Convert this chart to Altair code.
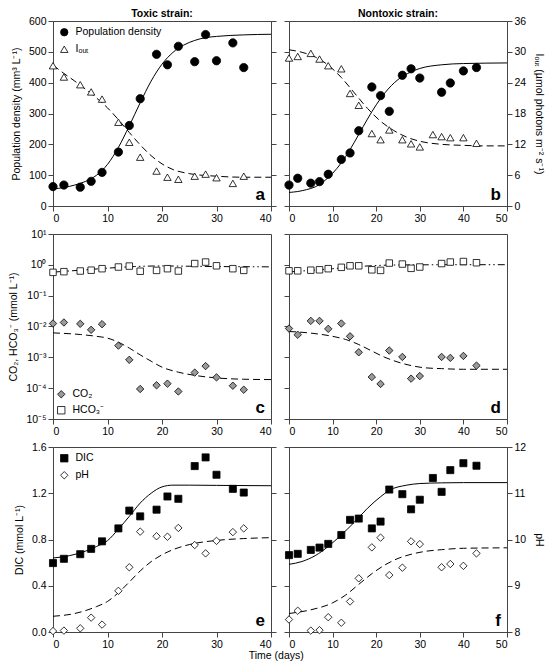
import altair as alt
import pandas as pd

FONT = "Liberation Sans"
W, H = 218, 185
FRAME = "#444444"
FS = 10.5

# ---------------- data: panels a / b ----------------
tox_day = [0, 2, 5, 7, 9, 12, 14, 16, 19, 21, 23, 26, 28, 30, 33, 35]
tox_density = [63, 68, 61, 80, 109, 175, 261, 348, 492, 458, 518, 468, 556, 471, 529, 449]
tox_iout = [27.3, 25.1, 23.6, 22.2, 20.8, 16.3, 12.4, 9.5, 6.8, 5.6, 5.2, 5.8, 6.2, 5.5, 4.4, 5.8]

non_day = [0, 2, 5, 7, 9, 12, 14, 16, 19, 21, 23, 26, 28, 30, 35, 37, 40, 43]
non_density = [68, 90, 74, 79, 103, 151, 172, 244, 386, 358, 307, 424, 445, 415, 369, 399, 438, 449]
non_day_all = [0, 2, 5, 7, 9, 12, 14, 16, 19, 21, 23, 26, 28, 30, 33, 35, 37, 40, 43]
non_iout = [28.8, 29.1, 29.7, 28.6, 27.3, 26.7, 21.9, 19.6, 14.1, 12.9, 14.8, 12.9, 12.1, 11.5,
            13.9, 13.5, 13.3, 13.3, 12.2]

# fitted curves
fit_a_day = [0, 2, 4, 6, 8, 10, 12, 14, 16, 18, 20, 22, 24, 26, 28, 30, 35, 40]
fit_a_pop = [55, 60, 68, 80, 100, 135, 190, 260, 335, 405, 460, 498, 522, 537, 546, 550, 555, 557]
fit_a_iday = [0, 2, 4, 6, 8, 10, 12, 14, 16, 18, 20, 22, 25, 30, 35, 40]
fit_a_iout = [27.4, 25.8, 24.3, 22.7, 21.0, 19.1, 16.8, 14.3, 11.9, 9.8, 8.2, 7.1, 6.3, 5.8, 5.6, 5.6]

fit_b_day = [0, 2, 4, 6, 8, 10, 12, 14, 16, 18, 20, 22, 25, 28, 30, 35, 40, 50]
fit_b_pop = [44, 47, 53, 62, 80, 106, 140, 183, 232, 282, 328, 367, 410, 435, 446, 458, 462, 464]
fit_b_iday = [0, 3, 6, 9, 12, 15, 18, 21, 24, 27, 30, 35, 40, 45, 50]
fit_b_iout = [30.4, 29.9, 29.0, 27.4, 25.0, 22.0, 19.0, 16.5, 14.7, 13.4, 12.6, 12.0, 11.8, 11.7, 11.7]

# ---------------- data: panels c / d ----------------
tox_hco3 = [0.57, 0.60, 0.63, 0.67, 0.75, 0.85, 0.91, 0.62, 0.66, 0.75, 0.63, 1.10, 1.23, 0.93, 0.75, 0.66]
tox_co2 = [0.0125, 0.0135, 0.0122, 0.0078, 0.0119, 0.0024, 0.00083, 9.4e-5, 1.24e-4, 1.4e-4,
           7.8e-5, 3.2e-4, 5.2e-4, 2.24e-4, 1.2e-4, 8.9e-5]
non_hco3 = [0.64, 0.64, 0.67, 0.69, 0.75, 0.83, 0.93, 0.93, 0.69, 0.66, 1.14, 1.06, 0.77, 0.85,
            1.10, 1.23, 1.28, 1.17]
non_co2 = [0.0086, 0.0054, 0.0152, 0.0152, 0.0084, 0.0125, 0.0048, 0.00146, 2.3e-4, 1.37e-4,
           0.00166, 0.00103, 2.04e-4, 2.47e-4, 0.00103, 9.6e-4, 0.00111, 5.4e-4]

fit_c_hday = [0, 5, 10, 15, 20, 25, 30, 35, 40]
fit_c_hco3 = [0.58, 0.67, 0.78, 0.88, 0.92, 0.90, 0.88, 0.87, 0.86]
fit_c_cday = [0, 5, 8, 10, 12, 14, 16, 18, 20, 23, 26, 30, 35, 40]
fit_c_co2 = [0.0062, 0.0055, 0.0048, 0.0042, 0.0031, 0.0020, 0.0012, 7.5e-4, 4.8e-4, 3.3e-4,
             2.6e-4, 2.15e-4, 1.95e-4, 1.9e-4]

fit_d_hday = [0, 5, 10, 15, 20, 25, 30, 40, 50]
fit_d_hco3 = [0.59, 0.66, 0.75, 0.86, 0.95, 0.99, 1.0, 1.01, 1.01]
fit_d_cday = [0, 5, 10, 13, 16, 19, 22, 25, 28, 31, 35, 40, 50]
fit_d_co2 = [0.0069, 0.0061, 0.0048, 0.0038, 0.0026, 0.0016, 0.0010, 7e-4, 5.4e-4, 4.6e-4,
             4.3e-4, 4.1e-4, 4.1e-4]

# ---------------- data: panels e / f ----------------
tox_dic = [0.596, 0.633, 0.673, 0.719, 0.784, 0.896, 1.05, 1.0, 1.058, 1.172, 1.152, 1.435, 1.51,
           1.36, 1.238, 1.206]
tox_ph = [8.02, 8.03, 8.08, 8.31, 8.16, 8.89, 9.40, 10.17, 10.07, 10.06, 10.25, 9.88, 9.70, 9.97,
          10.16, 10.24]
non_dic = [0.665, 0.676, 0.71, 0.73, 0.762, 0.839, 0.97, 0.981, 0.896, 0.955, 1.232, 1.192, 1.061,
           1.144, 1.332, 1.212, 1.40, 1.46, 1.438]
non_ph = [8.27, 8.46, 8.03, 8.04, 8.32, 8.20, 8.66, 9.16, 9.83, 10.04, 9.23, 9.39, 9.96, 9.90,
          9.40, 9.47, 9.43, 9.70]

fit_e_dday = [0, 3, 6, 8, 10, 12, 14, 16, 18, 20, 22, 25, 30, 40]
fit_e_dic = [0.64, 0.66, 0.70, 0.74, 0.79, 0.89, 1.0, 1.115, 1.20, 1.255, 1.27, 1.27, 1.268, 1.265]
fit_e_pday = [0, 4, 8, 10, 12, 14, 16, 18, 20, 22, 25, 30, 35, 40]
fit_e_ph = [8.34, 8.40, 8.55, 8.66, 8.85, 9.08, 9.32, 9.52, 9.67, 9.78, 9.89, 9.98, 10.02, 10.04]

fit_f_dday = [0, 3, 6, 9, 12, 15, 18, 21, 23, 27, 30, 35, 40, 50]
fit_f_dic = [0.585, 0.61, 0.66, 0.74, 0.84, 0.95, 1.07, 1.17, 1.225, 1.27, 1.284, 1.29, 1.292, 1.292]
fit_f_pday = [0, 5, 10, 13, 16, 19, 22, 25, 28, 31, 35, 40, 50]
fit_f_ph = [8.40, 8.48, 8.63, 8.80, 9.03, 9.26, 9.45, 9.59, 9.68, 9.74, 9.78, 9.81, 9.82]

LOG_LABELS = ("datum.value >= 5 ? '10¹' : datum.value >= 0.5 ? '10⁰' : datum.value >= 0.05 ? '10⁻¹' : "
              "datum.value >= 0.005 ? '10⁻²' : datum.value >= 0.0005 ? '10⁻³' : "
              "datum.value >= 0.00005 ? '10⁻⁴' : '10⁻⁵'")


def xenc(maxday):
    return alt.X("day:Q", scale=alt.Scale(domain=[0, maxday], nice=False, zero=False),
                 axis=alt.Axis(values=list(range(0, maxday + 1, 10)), title=None, orient="bottom"))


def legend_def(orient, offset, row_pad):
    return alt.Legend(orient=orient, title=None, offset=offset, padding=0, rowPadding=row_pad,
                      labelOffset=6, symbolSize=55, symbolStrokeColor="black",
                      symbolStrokeWidth=0.8, labelFont=FONT, labelFontSize=FS, labelColor="black")


def pts(days, vals, field, name, dom, shapes, fills, size, yscale, yaxis, maxday, legend):
    df = pd.DataFrame({"day": days, "val": vals, field: [name] * len(days)})
    strokes = ["black"] * len(dom)
    if legend is None:
        sh = alt.Shape(f"{field}:N", scale=alt.Scale(domain=dom, range=shapes), legend=None)
        fi = alt.Fill(f"{field}:N", scale=alt.Scale(domain=dom, range=fills), legend=None)
        st = alt.Stroke(f"{field}:N", scale=alt.Scale(domain=dom, range=strokes), legend=None)
    else:
        sh = alt.Shape(f"{field}:N", scale=alt.Scale(domain=dom, range=shapes), legend=legend)
        fi = alt.Fill(f"{field}:N", scale=alt.Scale(domain=dom, range=fills), legend=legend)
        st = alt.Stroke(f"{field}:N", scale=alt.Scale(domain=dom, range=strokes), legend=legend)
    return alt.Chart(df).mark_point(filled=True, opacity=1, strokeWidth=0.8, size=size).encode(
        x=xenc(maxday), y=alt.Y("val:Q", scale=yscale, axis=yaxis), shape=sh, fill=fi, stroke=st)


def fit(days, vals, yscale, yaxis, maxday, dash=None):
    df = pd.DataFrame({"day": days, "val": vals})
    if dash is None:
        m = alt.Chart(df).mark_line(color="black", strokeWidth=1, interpolate="monotone")
    else:
        m = alt.Chart(df).mark_line(color="black", strokeWidth=1, strokeDash=dash,
                                    interpolate="monotone")
    return m.encode(x=xenc(maxday), y=alt.Y("val:Q", scale=yscale, axis=yaxis))


def letter(ch):
    df = pd.DataFrame({"lab": [ch]})
    return alt.Chart(df).mark_text(font=FONT, fontSize=17, fontWeight="bold", align="right",
                                   baseline="alphabetic", color="black").encode(
        x=alt.value(W - 6), y=alt.value(H - 6), text="lab:N")


DASH = [7, 4]
DASHDOT = [7, 3, 1.5, 3, 1.5, 3]

# ---- scales and axes
pop_scale = alt.Scale(domain=[0, 600], nice=False, zero=False)
iout_scale = alt.Scale(domain=[0, 36], nice=False, zero=False)
log_scale = alt.Scale(type="log", domain=[1e-5, 10], nice=False)
dic_scale = alt.Scale(domain=[0, 1.6], nice=False, zero=False)
ph_scale = alt.Scale(domain=[8, 12], nice=False, zero=False)

pop_axis_l = alt.Axis(orient="left", values=list(range(0, 601, 100)),
                      title="Population density (mm³ L⁻¹)", titlePadding=7)
pop_axis_nolab = alt.Axis(orient="left", values=list(range(0, 601, 100)), labels=False, title=None)
iout_axis_nolab = alt.Axis(orient="right", values=list(range(0, 37, 6)), labels=False, title=None)
iout_axis_r = alt.Axis(orient="right", values=list(range(0, 37, 6)),
                       title="Iₒᵤₜ (µmol photons m⁻² s⁻¹)", titlePadding=8)
log_vals = [1e-5, 1e-4, 1e-3, 1e-2, 1e-1, 1, 10]
log_axis_l = alt.Axis(orient="left", values=log_vals, labelExpr=LOG_LABELS,
                      title="CO₂, HCO₃⁻ (mmol L⁻¹)", titlePadding=7)
log_axis_nolab = alt.Axis(orient="left", values=log_vals, labels=False, title=None)
dic_axis_l = alt.Axis(orient="left", values=[0, 0.4, 0.8, 1.2, 1.6], format=".1f",
                      title="DIC (mmol L⁻¹)", titlePadding=7)
dic_axis_nolab = alt.Axis(orient="left", values=[0, 0.4, 0.8, 1.2, 1.6], labels=False, title=None)
ph_axis_nolab = alt.Axis(orient="right", values=[8, 9, 10, 11, 12], labels=False, title=None)
ph_axis_r = alt.Axis(orient="right", values=[8, 9, 10, 11, 12], title="pH", titlePadding=8)

DOM_AB = ["Population density", "Iₒᵤₜ"]
SH_AB = ["circle", "triangle-up"]
FI_AB = ["black", "white"]
DOM_CD = ["CO₂", "HCO₃⁻"]
SH_CD = ["diamond", "square"]
FI_CD = ["#9a9a9a", "white"]
DOM_EF = ["DIC", "pH"]
SH_EF = ["square", "diamond"]
FI_EF = ["black", "white"]


def title(txt):
    return alt.TitleParams(txt, font=FONT, fontSize=FS, fontWeight="bold", color="black", offset=-3,
                           anchor="middle")


# ---- panel a
la = legend_def("top-left", 6, 6)
panel_a = alt.layer(
    alt.layer(fit(fit_a_day, fit_a_pop, pop_scale, pop_axis_l, 40),
              pts(tox_day, tox_density, "sa", DOM_AB[0], DOM_AB, SH_AB, FI_AB, 69, pop_scale,
                  pop_axis_l, 40, la)),
    alt.layer(fit(fit_a_iday, fit_a_iout, iout_scale, iout_axis_nolab, 40, DASH),
              pts(tox_day, tox_iout, "sa", DOM_AB[1], DOM_AB, SH_AB, FI_AB, 55, iout_scale,
                  iout_axis_nolab, 40, la)),
    letter("a"),
).resolve_scale(y="independent").properties(width=W, height=H, title=title("Toxic strain:"))

# ---- panel b
panel_b = alt.layer(
    alt.layer(fit(fit_b_day, fit_b_pop, pop_scale, pop_axis_nolab, 50),
              pts(non_day, non_density, "sb", DOM_AB[0], DOM_AB, SH_AB, FI_AB, 69, pop_scale,
                  pop_axis_nolab, 50, None)),
    alt.layer(fit(fit_b_iday, fit_b_iout, iout_scale, iout_axis_r, 50, DASH),
              pts(non_day_all, non_iout, "sb", DOM_AB[1], DOM_AB, SH_AB, FI_AB, 55, iout_scale,
                  iout_axis_r, 50, None)),
    letter("b"),
).resolve_scale(y="independent").properties(width=W, height=H, title=title("Nontoxic strain:"))

# ---- panel c
lc = legend_def("bottom-left", 3, 4)
panel_c = alt.layer(
    fit(fit_c_hday, fit_c_hco3, log_scale, log_axis_l, 40, DASHDOT),
    fit(fit_c_cday, fit_c_co2, log_scale, log_axis_l, 40, DASH),
    pts(tox_day, tox_hco3, "sc", DOM_CD[1], DOM_CD, SH_CD, FI_CD, 42, log_scale, log_axis_l, 40, lc),
    pts(tox_day, tox_co2, "sc", DOM_CD[0], DOM_CD, SH_CD, FI_CD, 55, log_scale, log_axis_l, 40, lc),
    letter("c"),
).properties(width=W, height=H)

# ---- panel d
panel_d = alt.layer(
    fit(fit_d_hday, fit_d_hco3, log_scale, log_axis_nolab, 50, DASHDOT),
    fit(fit_d_cday, fit_d_co2, log_scale, log_axis_nolab, 50, DASH),
    pts(non_day, non_hco3, "sd", DOM_CD[1], DOM_CD, SH_CD, FI_CD, 42, log_scale, log_axis_nolab, 50,
        None),
    pts(non_day, non_co2, "sd", DOM_CD[0], DOM_CD, SH_CD, FI_CD, 55, log_scale, log_axis_nolab, 50,
        None),
    letter("d"),
).properties(width=W, height=H)

# ---- panel e
le = legend_def("top-left", 6, 5)
panel_e = alt.layer(
    alt.layer(fit(fit_e_dday, fit_e_dic, dic_scale, dic_axis_l, 40),
              pts(tox_day, tox_dic, "se", DOM_EF[0], DOM_EF, SH_EF, FI_EF, 50, dic_scale, dic_axis_l,
                  40, le)),
    alt.layer(fit(fit_e_pday, fit_e_ph, ph_scale, ph_axis_nolab, 40, DASH),
              pts(tox_day, tox_ph, "se", DOM_EF[1], DOM_EF, SH_EF, FI_EF, 55, ph_scale,
                  ph_axis_nolab, 40, le)),
    letter("e"),
).resolve_scale(y="independent").properties(width=W, height=H)

# ---- panel f
panel_f = alt.layer(
    alt.layer(fit(fit_f_dday, fit_f_dic, dic_scale, dic_axis_nolab, 50),
              pts(non_day_all, non_dic, "sf", DOM_EF[0], DOM_EF, SH_EF, FI_EF, 50, dic_scale,
                  dic_axis_nolab, 50, None)),
    alt.layer(fit(fit_f_pday, fit_f_ph, ph_scale, ph_axis_r, 50, DASH),
              pts(non_day, non_ph, "sf", DOM_EF[1], DOM_EF, SH_EF, FI_EF, 55, ph_scale, ph_axis_r,
                  50, None)),
    letter("f"),
).resolve_scale(y="independent").properties(width=W, height=H)


def row(l, r):
    return alt.hconcat(l, r, spacing=18, bounds="flush").resolve_scale(
        x="independent", y="independent", shape="independent", fill="independent",
        stroke="independent")


chart = alt.vconcat(
    row(panel_a, panel_b), row(panel_c, panel_d), row(panel_e, panel_f),
    spacing=4,
).resolve_scale(
    x="independent", y="independent", shape="independent", fill="independent",
    stroke="independent"
).properties(
    padding=0,
    title=alt.TitleParams("Time (days)", orient="bottom", anchor="middle", font=FONT, fontSize=FS,
                          fontWeight="normal", color="black", offset=1),
).configure_view(
    stroke=FRAME, strokeWidth=1
).configure_axis(
    labelFont=FONT, titleFont=FONT, labelFontSize=FS, titleFontSize=FS, titleFontWeight="normal",
    labelColor="black", titleColor="black", tickColor=FRAME, domainColor=FRAME, tickSize=5,
    tickWidth=1, domainWidth=1, grid=False, labelPadding=2
).configure_legend(
    labelFont=FONT, labelFontSize=FS
)

chart.save("out.html", embed_options={"renderer": "svg", "actions": False})
